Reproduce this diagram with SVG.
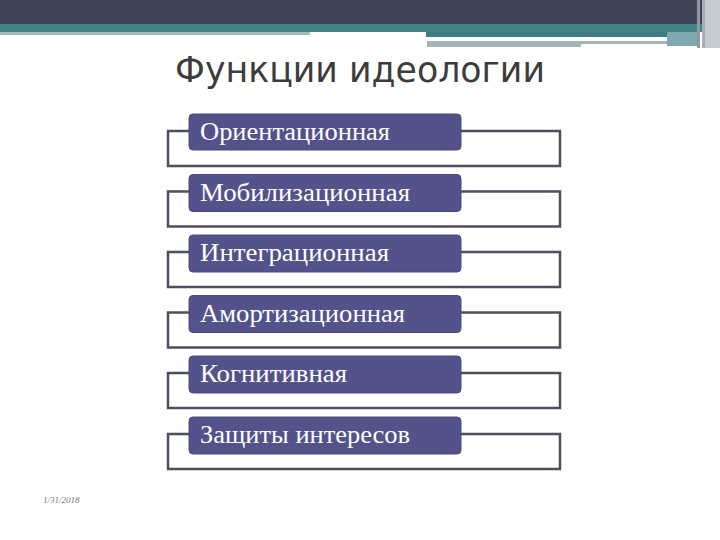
<svg xmlns="http://www.w3.org/2000/svg" width="720" height="540" viewBox="0 0 720 540">
<defs>
<style>
.box{fill:#53528A;stroke:#4A4A7A;stroke-width:1}
.br{fill:none;stroke:#4E4E5E;stroke-width:2.5}
.lbl{font-family:"Liberation Serif","Times New Roman",serif;font-size:25px;fill:#FFFFFF}
.title{font-family:"DejaVu Sans","Noto Sans",sans-serif;font-size:35px;fill:#3C3C3C}
.date{font-family:"Liberation Serif",serif;font-size:9px;fill:#777777;font-style:italic}
</style>
</defs>
<rect width="720" height="540" fill="#FFFFFF"/>
<g id="header">
<rect x="0" y="0" width="720" height="24" fill="#3F4456"/>
<rect x="0" y="24" width="720" height="8" fill="#458389"/>
<rect x="0" y="32" width="310" height="3" fill="#A6B9BE"/>
<rect x="426" y="32" width="271" height="5" fill="#3E7C83"/>
<rect x="427" y="37" width="240" height="3" fill="#FFFFFF"/>
<rect x="427" y="41" width="154" height="6" fill="#A3B5B8"/>
<rect x="581" y="41" width="86" height="3" fill="#A3B5B8"/>
<rect x="667" y="32" width="30" height="14" fill="#7FA9AE"/>
<rect x="697" y="0" width="3" height="48" fill="#9098A4"/>
<rect x="702" y="0" width="3" height="48" fill="#A9AFBA"/>
<rect x="705" y="0" width="15" height="48" fill="#C5CBD2"/>
</g>
<g id="title"><text class="title" x="360" y="82" text-anchor="middle" textLength="370" lengthAdjust="spacingAndGlyphs">Функции идеологии</text></g>
<g id="connectors">
<path class="br" d="M189 131 H168 V166 H560 V131 H461"/>
<path class="br" d="M189 191.5 H168 V226.5 H560 V191.5 H461"/>
<path class="br" d="M189 252 H168 V287 H560 V252 H461"/>
<path class="br" d="M189 312.5 H168 V347.5 H560 V312.5 H461"/>
<path class="br" d="M189 373 H168 V408 H560 V373 H461"/>
<path class="br" d="M189 434 H168 V469 H560 V434 H461"/>
</g>
<g id="n1"><rect class="box" x="189" y="114" width="272" height="36" rx="4"/><text class="lbl" x="200" y="140" textLength="190" lengthAdjust="spacingAndGlyphs">Ориентационная</text></g>
<g id="n2"><rect class="box" x="189" y="174.5" width="272" height="37" rx="4"/><text class="lbl" x="200" y="200.5" textLength="210" lengthAdjust="spacingAndGlyphs">Мобилизационная</text></g>
<g id="n3"><rect class="box" x="189" y="235" width="272" height="37" rx="4"/><text class="lbl" x="200" y="261" textLength="189" lengthAdjust="spacingAndGlyphs">Интеграционная</text></g>
<g id="n4"><rect class="box" x="189" y="295.5" width="272" height="37" rx="4"/><text class="lbl" x="200" y="321.5" textLength="205" lengthAdjust="spacingAndGlyphs">Амортизационная</text></g>
<g id="n5"><rect class="box" x="189" y="356" width="272" height="37" rx="4"/><text class="lbl" x="200" y="382" textLength="147" lengthAdjust="spacingAndGlyphs">Когнитивная</text></g>
<g id="n6"><rect class="box" x="189" y="417" width="272" height="37" rx="4"/><text class="lbl" x="200" y="443" textLength="210" lengthAdjust="spacingAndGlyphs">Защиты интересов</text></g>
<g id="footer"><text class="date" x="43" y="503">1/31/2018</text></g>
</svg>
